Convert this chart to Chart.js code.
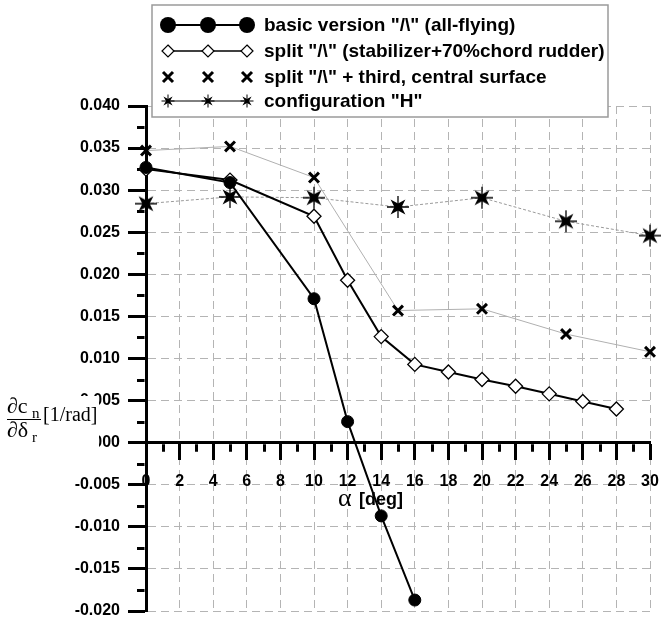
<!DOCTYPE html>
<html><head><meta charset="utf-8">
<script src="https://cdn.jsdelivr.net/npm/chart.js@4/dist/chart.umd.min.js"></script>
<style>html,body{margin:0;padding:0;background:#fff;}canvas{display:block;}</style>
</head><body>
<canvas id="c" width="661" height="622"></canvas>
<script>
// ---- data ----
const seriesLabels = [
  'basic version "/\\" (all-flying)',
  'split "/\\" (stabilizer+70%chord rudder)',
  'split "/\\" + third, central surface',
  'configuration "H"'
];
const basicAlpha = [0, 5, 10, 12, 14, 16];
const basicCn    = [0.0327, 0.0309, 0.0171, 0.0025, -0.0087, -0.0187];
const splitAlpha = [0, 5, 10, 12, 14, 16, 18, 20, 22, 24, 26, 28];
const splitCn    = [0.0325, 0.0312, 0.0269, 0.0193, 0.0126, 0.0093, 0.0084, 0.0075, 0.0067, 0.0058, 0.0049, 0.0040];
const thirdAlpha = [0, 5, 10, 15, 20, 25, 30];
const thirdCn    = [0.0347, 0.0352, 0.0315, 0.0157, 0.0159, 0.0129, 0.0108];
const hAlpha     = [0, 5, 10, 15, 20, 25, 30];
const hCn        = [0.0284, 0.0292, 0.0291, 0.0280, 0.0291, 0.0263, 0.0246];
const xTickValues = [0, 2, 4, 6, 8, 10, 12, 14, 16, 18, 20, 22, 24, 26, 28, 30];
const xTickLabels = ['0','2','4','6','8','10','12','14','16','18','20','22','24','26','28','30'];
const xMinorTicks = [1, 3, 5, 7, 9, 11, 13, 15, 17, 19, 21, 23, 25, 27, 29];
const yTickValues = [-0.020, -0.015, -0.010, -0.005, 0.000, 0.005, 0.010, 0.015, 0.020, 0.025, 0.030, 0.035, 0.040];
const yTickLabels = ['-0.020','-0.015','-0.010','-0.005','0.000','0.005','0.010','0.015','0.020','0.025','0.030','0.035','0.040'];
const yMinorTicks = [-0.0175, -0.0125, -0.0075, -0.0025, 0.0025, 0.0075, 0.0125, 0.0175, 0.0225, 0.0275, 0.0325, 0.0375];

const pts = (xs, ys) => xs.map((x, i) => ({x: x, y: ys[i]}));

// star marker
function drawStar(g, x, y, R, r, L, lw) {
  g.save();
  g.fillStyle = '#000';
  g.beginPath();
  for (let i = 0; i < 8; i++) {
    const a = i * Math.PI / 4;
    const rad = (i % 2 === 1) ? R : r;
    const px = x + Math.cos(a) * rad, py = y + Math.sin(a) * rad;
    if (i === 0) g.moveTo(px, py); else g.lineTo(px, py);
  }
  g.closePath();
  g.fill();
  g.strokeStyle = '#000';
  g.lineWidth = lw;
  g.beginPath();
  g.moveTo(x - L, y); g.lineTo(x + L, y);
  g.moveTo(x, y - L); g.lineTo(x, y + L);
  g.stroke();
  g.restore();
}
function makeStar(size, R, r, L, lw) {
  const c = document.createElement('canvas');
  c.width = size; c.height = size;
  drawStar(c.getContext('2d'), size / 2, size / 2, R, r, L, lw);
  return c;
}
const starImg = makeStar(26, 10.5, 3.6, 11, 1.3);

const SANS = '"Liberation Sans", Arial, sans-serif';
const SERIF = '"Liberation Serif", "Times New Roman", serif';

const decor = {
  id: 'decor',
  beforeDatasetsDraw(chart) {
    const ctx = chart.ctx, xs = chart.scales.x, ys = chart.scales.y;
    const y0 = ys.getPixelForValue(0);
    const xl = xs.getPixelForValue(0);
    ctx.save();
    ctx.strokeStyle = '#000';
    ctx.lineWidth = 3;
    ctx.beginPath();
    xMinorTicks.forEach(v => {
      const px = Math.round(xs.getPixelForValue(v)) + 0.5;
      ctx.moveTo(px, y0 + 1.5); ctx.lineTo(px, y0 + 9);
    });
    yMinorTicks.forEach(v => {
      const py = Math.round(ys.getPixelForValue(v)) + 0.5;
      ctx.moveTo(xl - 9, py); ctx.lineTo(xl - 1.5, py);
    });
    ctx.stroke();
    ctx.restore();
  },
  afterDraw(chart) {
    const ctx = chart.ctx;
    ctx.save();
    // y-axis title with white backing
    ctx.fillStyle = '#fff';
    ctx.fillRect(0, 396, 99, 60);
    ctx.fillStyle = '#000';
    ctx.textBaseline = 'alphabetic';
    ctx.textAlign = 'left';
    ctx.font = '22px ' + SERIF;
    ctx.fillText('\u2202c', 7, 413);
    ctx.fillText('\u2202\u03B4', 7, 437);
    ctx.font = '15px ' + SERIF;
    ctx.fillText('n', 32, 418);
    ctx.fillText('r', 32, 442);
    ctx.strokeStyle = '#000';
    ctx.lineWidth = 1;
    ctx.beginPath(); ctx.moveTo(7, 419.5); ctx.lineTo(41, 419.5); ctx.stroke();
    ctx.font = '20px ' + SERIF;
    ctx.fillText('[1/rad]', 43, 421);
    // x-axis title
    ctx.font = '26px ' + SERIF;
    ctx.fillText('\u03B1', 338, 506);
    ctx.font = 'bold 18px ' + SANS;
    ctx.fillText('[deg]', 359, 505);

    // legend
    const L = {x: 152, y: 5, w: 456, h: 112};
    ctx.fillStyle = '#fff';
    ctx.fillRect(L.x, L.y, L.w, L.h);
    ctx.strokeStyle = '#9a9a9a';
    ctx.lineWidth = 1.5;
    ctx.strokeRect(L.x, L.y, L.w, L.h);
    const rows = [25, 51, 77, 101];
    const mx = [168, 208, 247];
    // row 1: filled circles + thick line
    ctx.strokeStyle = '#000';
    ctx.lineWidth = 2;
    ctx.beginPath(); ctx.moveTo(mx[0], rows[0]); ctx.lineTo(mx[2], rows[0]); ctx.stroke();
    ctx.fillStyle = '#000';
    mx.forEach(x => { ctx.beginPath(); ctx.arc(x, rows[0], 8, 0, Math.PI * 2); ctx.fill(); });
    // row 2: open diamonds
    ctx.lineWidth = 1.5;
    ctx.beginPath(); ctx.moveTo(mx[0], rows[1]); ctx.lineTo(mx[2], rows[1]); ctx.stroke();
    mx.forEach(x => {
      ctx.beginPath();
      ctx.moveTo(x, rows[1] - 6); ctx.lineTo(x + 6, rows[1]); ctx.lineTo(x, rows[1] + 6); ctx.lineTo(x - 6, rows[1]); ctx.closePath();
      ctx.fillStyle = '#fff'; ctx.fill(); ctx.lineWidth = 1.2; ctx.stroke();
    });
    // row 3: crosses only
    ctx.lineWidth = 3;
    mx.forEach(x => {
      ctx.beginPath();
      ctx.moveTo(x - 5, rows[2] - 5); ctx.lineTo(x + 5, rows[2] + 5);
      ctx.moveTo(x + 5, rows[2] - 5); ctx.lineTo(x - 5, rows[2] + 5);
      ctx.stroke();
    });
    // row 4: stars + thin line
    ctx.lineWidth = 1;
    ctx.beginPath(); ctx.moveTo(mx[0], rows[3]); ctx.lineTo(mx[2], rows[3]); ctx.stroke();
    mx.forEach(x => drawStar(ctx, x, rows[3], 6.5, 2, 6.5, 1));
    // texts
    ctx.fillStyle = '#000';
    ctx.font = 'bold 19px ' + SANS;
    ctx.textBaseline = 'middle';
    seriesLabels.forEach((t, i) => ctx.fillText(t, 264, rows[i] + 1));
    ctx.restore();
  }
};

new Chart(document.getElementById('c'), {
  type: 'scatter',
  data: {
    datasets: [
      { label: seriesLabels[0], data: pts(basicAlpha, basicCn), showLine: true,
        borderColor: '#000', borderWidth: 2, pointStyle: 'circle', pointRadius: 6,
        pointBackgroundColor: '#000', pointBorderColor: '#000', pointBorderWidth: 1, clip: false },
      { label: seriesLabels[1], data: pts(splitAlpha, splitCn), showLine: true,
        borderColor: '#000', borderWidth: 2, pointStyle: 'rectRot', pointRadius: 7,
        pointBackgroundColor: '#fff', pointBorderColor: '#000', pointBorderWidth: 1.3, clip: false },
      { label: seriesLabels[2], data: pts(thirdAlpha, thirdCn), showLine: true,
        borderColor: '#b0b0b0', borderWidth: 1, pointStyle: 'crossRot', pointRadius: 7,
        pointBorderColor: '#000', pointBorderWidth: 3, clip: false },
      { label: seriesLabels[3], data: pts(hAlpha, hCn), showLine: true,
        borderColor: '#9a9a9a', borderWidth: 1, borderDash: [3, 2], pointStyle: starImg,
        pointRadius: 10, clip: false }
    ]
  },
  options: {
    responsive: false,
    animation: false,
    devicePixelRatio: 1,
    layout: { padding: { left: 0, top: 106, right: 8, bottom: 6 } },
    plugins: { legend: { display: false }, tooltip: { enabled: false } },
    scales: {
      x: {
        type: 'linear', min: 0, max: 30,
        position: { y: 0 },
        afterBuildTicks: s => { s.ticks = xTickValues.map(v => ({ value: v })); },
        afterFit: s => { s.height = 0; s.paddingLeft = 0; s.paddingRight = 0; },
        ticks: {
          autoSkip: false, maxRotation: 0, padding: 13, color: '#000',
          font: { family: SANS, weight: 'bold', size: 16 },
          callback: (v) => { const i = xTickValues.indexOf(v); return i >= 0 ? xTickLabels[i] : ''; }
        },
        grid: { color: '#b4b4b4', lineWidth: 1, tickColor: '#000', tickWidth: 3, tickLength: 16, tickBorderDash: [] },
        border: { display: true, color: '#000', width: 3, dash: [8, 5] }
      },
      y: {
        type: 'linear', min: -0.02, max: 0.04,
        position: 'left',
        afterBuildTicks: s => { s.ticks = yTickValues.map(v => ({ value: v })); },
        afterFit: s => { s.width = 146; s.paddingTop = 0; s.paddingBottom = 0; },
        ticks: {
          autoSkip: false, padding: 8, color: '#000',
          font: { family: SANS, weight: 'bold', size: 16 },
          callback: (v) => { const i = yTickValues.findIndex(t => Math.abs(t - v) < 1e-9); return i >= 0 ? yTickLabels[i] : ''; }
        },
        grid: { color: '#b4b4b4', lineWidth: 1, tickColor: '#000', tickWidth: 3, tickLength: 18, tickBorderDash: [] },
        border: { display: true, color: '#000', width: 3, dash: [8, 5] }
      }
    }
  },
  plugins: [decor]
});
</script>
</body></html>
